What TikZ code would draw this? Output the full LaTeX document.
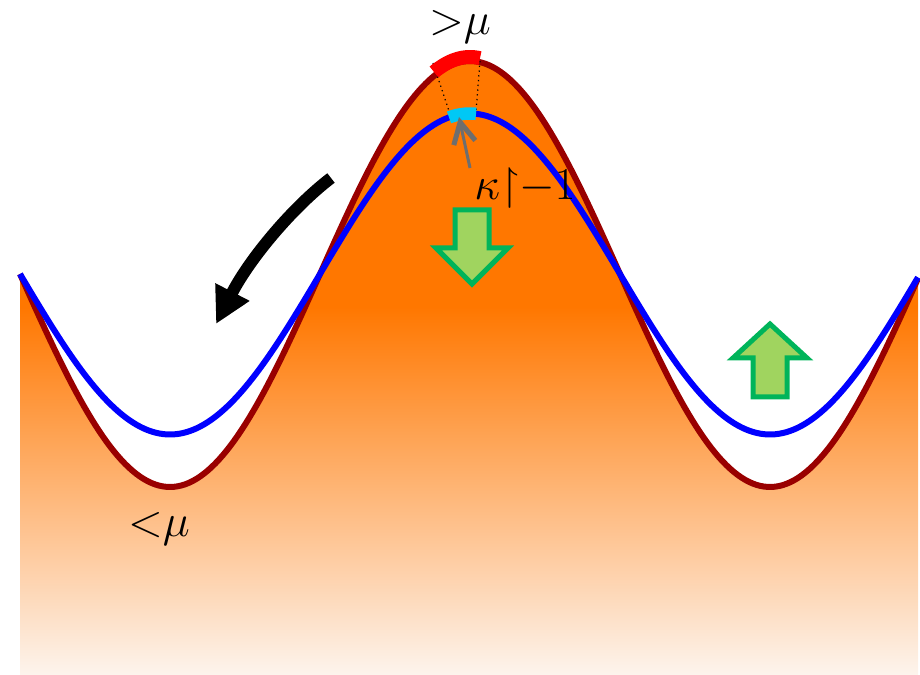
\documentclass[tikz,border=0pt]{standalone}
\usepackage{amssymb}
\usetikzlibrary{arrows.meta}
\definecolor{curvered}{RGB}{153,0,0}
\definecolor{curveblue}{RGB}{0,0,255}
\definecolor{fillorange}{RGB}{255,119,0}
\definecolor{fadeend}{RGB}{253,244,237}
\definecolor{peakred}{RGB}{255,0,0}
\definecolor{peakcyan}{RGB}{0,200,245}
\definecolor{arrowgreen}{RGB}{0,180,90}
\definecolor{arrowfill}{RGB}{160,212,95}
\definecolor{pointer}{RGB}{110,110,110}
\pgfdeclareverticalshading{orangefade}{100bp}{color(0bp)=(fadeend); color(25bp)=(fadeend); color(55bp)=(fillorange); color(100bp)=(fillorange)}
\begin{document}
\begin{tikzpicture}[x=0.02cm,y=-0.02cm,
  redcurve/.style={draw=curvered,line width=0.12cm},
  bluecurve/.style={draw=curveblue,line width=0.12cm},
  greenarrow/.style={draw=arrowgreen,fill=arrowfill,line width=0.1cm,line join=miter},
  lbl/.style={inner sep=0pt,font=\Huge,scale=1.045}]
\useasboundingbox (0,0) rectangle (920,675);
% filled landscape
\shade[shading=orangefade] (20,675) -- plot[domain=20:918,samples=240] (\x,{274-213*cos(0.6*(\x-470))}) -- (918,675) -- cycle;
% curves
\draw[redcurve] plot[domain=20:918,samples=240] (\x,{274-213*cos(0.6*(\x-470))});
\draw[bluecurve] plot[domain=20:918,samples=240] (\x,{274-160.5*cos(0.6*(\x-470))});
% dotted guides
\coordinate (rl) at (433,63);
\coordinate (rr) at (480,61);
\coordinate (cl) at (450,114);
\coordinate (cr) at (476,112);
\draw[dotted,line width=0.025cm] (rl) -- (cl);
\draw[dotted,line width=0.025cm] (rr) -- (cr);
% peak segments
\draw[draw=peakred,line width=0.28cm] plot[domain=434:480,samples=30] (\x,{270-213*cos(0.6*(\x-470))});
\draw[draw=peakcyan,line width=0.25cm] plot[domain=449:476,samples=20] (\x,{274-160.5*cos(0.6*(\x-470))});
% gray pointer
\coordinate (ptail) at (470,168);
\coordinate (ptip) at (459,117);
\draw[draw=pointer,line width=0.06cm,-{Straight Barb[length=0.42cm,width=0.44cm,line width=0.1cm]}] (ptail) -- (ptip);
% green arrows
\draw[greenarrow] (455,210) -- (489,210) -- (489,248) -- (508,248) -- (472,284) -- (436,248) -- (455,248) -- cycle;
\draw[greenarrow] (753,397) -- (787,397) -- (787,358) -- (807,358) -- (770,324) -- (733,358) -- (753,358) -- cycle;
% black curved arrow
\coordinate (bs) at (331,178);
\coordinate (be) at (216,324);
\draw[line width=0.24cm,-{Triangle[length=0.72cm,width=0.72cm]}] (bs) .. controls (293,207) and (250,258) .. (be);
% labels
\node[lbl,anchor=base] (gt) at (460,35) {${>}\mu$};
\node[lbl,anchor=base] (lt) at (159,537) {${<}\mu$};
\node[lbl,anchor=base] (kap) at (525,200) {$\kappa{\upharpoonright}{-}1$};
\end{tikzpicture}
\end{document}
